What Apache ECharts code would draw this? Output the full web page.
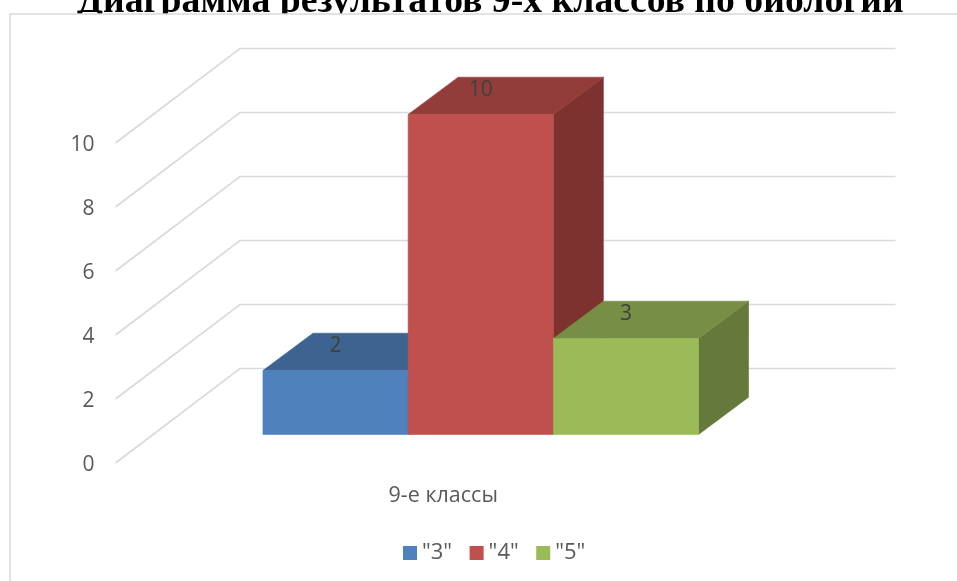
<!DOCTYPE html>
<html>
<head>
<meta charset="utf-8">
<style>html,body{margin:0;padding:0;background:#fff}#c{width:957px;height:581px}</style>
<script src="https://cdn.jsdelivr.net/npm/echarts@6/dist/echarts.min.js"></script>
</head>
<body>
<div id="c"></div>
<script>
const titleText = 'Диаграмма результатов 9-х классов по биологии';
const categories = ['9-е классы'];
const seriesNames = ['"3"', '"4"', '"5"'];
const seriesValues = [[2], [10], [3]];
const ticks = [0, 2, 4, 6, 8, 10];
const frontColors = ['#4F81BD', '#C0504D', '#9BBB59'];
const topColors = ['#3D6490', '#933D3A', '#778F45'];
const sideColors = ['#335478', '#7D3230', '#64793A'];

const textFont = '"Open Sans"';
const wallDx = 124.5, wallDy = -94.5;      // floor depth of the 3D box
const barDepthDx = 50, barDepthDy = -37.3; // depth of a bar
const barOffsetDx = 37.5, barOffsetDy = -28.5; // bar's front face, behind the floor's front edge
const barWidthShare = 0.2215;              // bar width as a share of the category band

const chart = echarts.init(document.getElementById('c'), null, {renderer: 'canvas'});

function poly(points, color, stroke) {
  return {type: 'polygon', shape: {points},
    style: {fill: color, stroke: stroke || color, lineWidth: 0.6}};
}

const wallSeries = {
  type: 'custom', name: 'walls', silent: true, z: 3,
  data: ticks.map(t => [0, t]),
  renderItem: function (params, api) {
    const p = api.coord([api.value(0), api.value(1)]);
    const band = api.size([1, 0])[0];
    const left = p[0] - band / 2, right = p[0] + band / 2;
    return {type: 'polyline',
      shape: {points: [[left, p[1]], [left + wallDx, p[1] + wallDy], [right + wallDx, p[1] + wallDy]]},
      style: {fill: null, stroke: '#D9D9D9', lineWidth: 1.6}};
  }
};

const barSeries = seriesNames.map((name, i) => ({
  type: 'custom', name, silent: true, z: 4 + i,
  itemStyle: {color: frontColors[i]},
  data: seriesValues[i].map((v, c) => [c, v]),
  renderItem: function (params, api) {
    const base = api.coord([api.value(0), 0]);
    const top = api.coord([api.value(0), api.value(1)]);
    const band = api.size([1, 0])[0];
    const w = band * barWidthShare;
    const x0 = base[0] + barOffsetDx + (i - 1.5) * w, x1 = x0 + w;
    const yb = base[1] + barOffsetDy, yt = top[1] + barOffsetDy;
    const dx = barDepthDx, dy = barDepthDy;
    return {type: 'group', children: [
      poly([[x1, yt], [x1 + dx, yt + dy], [x1 + dx, yb + dy], [x1, yb]], sideColors[i]),
      poly([[x0, yt], [x0 + dx, yt + dy], [x1 + dx, yt + dy], [x1, yt]], topColors[i]),
      poly([[x0, yt], [x1, yt], [x1, yb], [x0, yb]], frontColors[i]),
      {type: 'text', z2: 10, style: {
        text: String(api.value(1)), x: (x0 + x1) / 2, y: yt - 24,
        align: 'center', verticalAlign: 'middle',
        font: '21px ' + textFont, fill: '#404040'}}
    ]};
  }
}));

chart.setOption({
  animation: false,
  backgroundColor: '#fff',
  title: {
    text: titleText, left: 77, top: -17, padding: 0, z: 1,
    textStyle: {fontFamily: '"Liberation Serif"', fontWeight: 'bold', fontSize: 37.7, color: '#000'}
  },
  graphic: [{
    type: 'rect', z: 2, silent: true,
    shape: {x: 10, y: 14, width: 980, height: 600},
    style: {fill: '#fff', stroke: '#D9D9D9', lineWidth: 1.5}
  }],
  legend: {
    data: seriesNames, left: 398, top: 537, z: 20, itemWidth: 14, itemHeight: 14, itemGap: 17.5,
    icon: 'rect',
    textStyle: {fontFamily: textFont, fontSize: 22, color: '#595959'}
  },
  grid: {left: 115.5, top: 143, width: 655.5, height: 320, containLabel: false, z: 3},
  xAxis: {
    type: 'category', data: categories, z: 20,
    axisLine: {show: false}, axisTick: {show: false}, splitLine: {show: false},
    axisLabel: {fontFamily: textFont, fontSize: 21.5, color: '#595959', margin: 22}
  },
  yAxis: {
    type: 'value', min: ticks[0], max: ticks[ticks.length - 1], interval: 2, z: 20,
    axisLine: {show: false}, axisTick: {show: false}, splitLine: {show: false},
    axisLabel: {fontFamily: textFont, fontSize: 21, color: '#595959', margin: 21, lineHeight: 21, verticalAlign: 'top', padding: [-8, 0, 0, 0]}
  },
  series: [wallSeries].concat(barSeries)
});
</script>
</body>
</html>
